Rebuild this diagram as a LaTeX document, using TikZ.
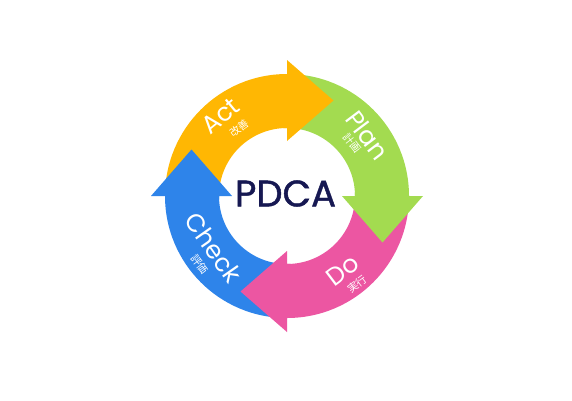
\documentclass[tikz,border=0pt]{standalone}
\usepackage{fontspec}
\setmainfont{Poppins}
\newfontfamily\jpfont{Noto Sans CJK JP}
\newfontfamily\pdcafont[FakeBold=1.2]{Poppins}
\usetikzlibrary{calc}
\definecolor{actc}{RGB}{255,183,3}
\definecolor{planc}{RGB}{163,219,80}
\definecolor{doc}{RGB}{236,86,162}
\definecolor{checkc}{RGB}{46,132,234}
\definecolor{navy}{RGB}{22,24,82}
\tikzset{
  lbl/.style={text=white, inner sep=0pt, font=\fontsize{25}{25}\selectfont},
  jlbl/.style={text=white, inner sep=0pt, font=\jpfont\fontsize{10.5}{10.5}\selectfont},
}
\begin{document}
\begin{tikzpicture}[x=1pt,y=1pt]
\useasboundingbox (0,0) rectangle (572,400);
\fill[white] (0,0) rectangle (572,400);
\begin{scope}[shift={(287,204)}]
  \foreach \s/\c [evaluate=\s as \e using \s-90] in {180/actc,90/planc,0/doc,-90/checkc}{
    \fill[\c] (\s:122) arc[start angle=\s, end angle=\e, radius=122]
      -- (\e:68) arc[start angle=\e, end angle=\s, radius=68] -- cycle;
  }
  \foreach \e/\c [evaluate=\e as \t using \e-90, evaluate=\e as \b using \e+3] in {90/actc,0/planc,-90/doc,-180/checkc}{
    \fill[\c] (\b:122) arc[start angle=\b, end angle=\e, radius=122]
      -- (\e:136) -- ($(\e:95.5)+(\t:46.5)$) -- (\e:55) -- (\e:68)
      arc[start angle=\e, end angle=\b, radius=68] -- cycle;
  }
  \node[text=navy, inner sep=0pt, font=\pdcafont\fontsize{37}{37}\selectfont] (pdca) at (-1.5,2.5) {PDCA};
  \node[lbl, rotate=39.6] (act) at (129.6:104) {Act};
  \node[jlbl, rotate=36] (actj) at (125:83) {改善};
  \node[lbl, rotate=-53] (plan) at (37:101) {Plan};
  \node[jlbl, rotate=-52] (planj) at (39:84) {計画};
  \node[lbl, rotate=37] (do) at (-53:93) {Do};
  \node[jlbl, rotate=37] (doj) at (-51.5:113) {実行};
  \node[lbl, rotate=-55] (check) at (215:90) {Check};
  \node[jlbl, rotate=-53] (checkj) at (218:111) {評価};
\end{scope}
\end{tikzpicture}
\end{document}
